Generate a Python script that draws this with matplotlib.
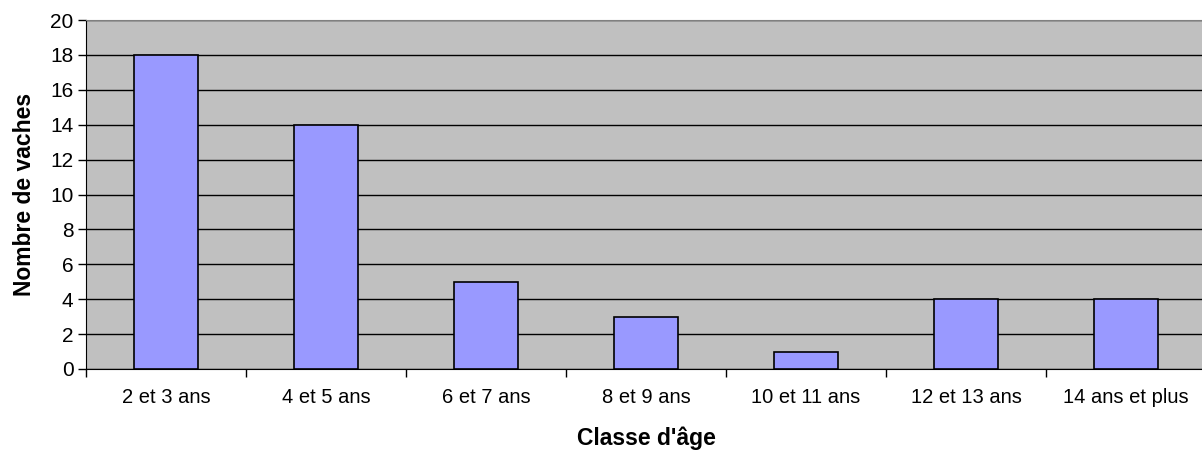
import matplotlib
matplotlib.use("Agg")
import matplotlib.pyplot as plt
import numpy as np

categories = ["2 et 3 ans", "4 et 5 ans", "6 et 7 ans", "8 et 9 ans",
              "10 et 11 ans", "12 et 13 ans", "14 ans et plus"]
values = [18, 14, 5, 3, 1, 4, 4]
yticks = list(range(0, 21, 2))

plt.rcParams['font.family'] = ['Liberation Sans', 'DejaVu Sans']

W, H = 1202, 450
fig = plt.figure(figsize=(W/100, H/100), dpi=100)
left, right, top, bottom = 86, 1206, 20, 369
ax = fig.add_axes([left/W, 1 - bottom/H, (right-left)/W, (bottom-top)/H])
ax.set_facecolor('#C0C0C0')

x = np.arange(len(categories))
ax.set_axisbelow(True)
ax.yaxis.grid(True, color='black', linewidth=1)
ax.bar(x, values, width=0.4, color='#9999FF', edgecolor='black', linewidth=1.2, zorder=3)

ax.set_xlim(-0.5, len(categories) - 0.5)
ax.set_ylim(0, 20)
ax.set_yticks(yticks)
ax.tick_params(axis='y', direction='out', length=6, width=1, labelsize=15, pad=3)

ax.set_xticks(np.arange(len(categories) + 1) - 0.5)
ax.set_xticklabels([])
ax.set_xticks(x, minor=True)
ax.set_xticklabels(categories, minor=True)
ax.tick_params(axis='x', which='major', direction='out', length=6, width=1)
ax.tick_params(axis='x', which='minor', length=0, labelsize=14.5, pad=14)

ax.spines['right'].set_visible(False)
ax.spines['top'].set_color('#808080')
ax.spines['left'].set_color('black')
ax.spines['bottom'].set_color('black')

ax.set_ylabel("Nombre de vaches", fontsize=16.5, fontweight='bold', labelpad=10)
ax.set_xlabel("Classe d'âge", fontsize=16.5, fontweight='bold', labelpad=14)

fig.savefig("out.png", dpi=100)
